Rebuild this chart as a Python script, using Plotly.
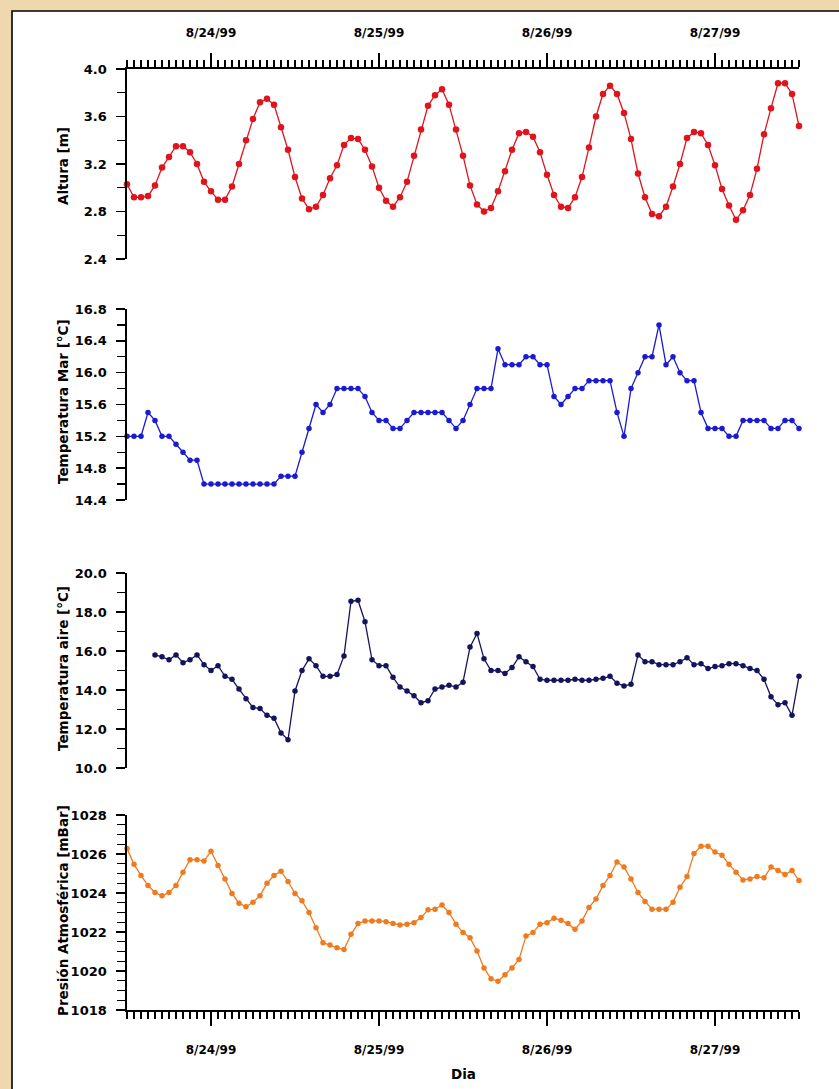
import pandas as pd
import plotly.graph_objects as go

# ---------------- data (hourly, 8/23/99 12:00 .. 8/27/99 12:00) ----------------
start_time = "1999-08-23 12:00"
n_hours = 97
air_start_hour = 4

day_ticks = ["1999-08-24", "1999-08-25", "1999-08-26", "1999-08-27"]
day_labels = ["8/24/99", "8/25/99", "8/26/99", "8/27/99"]

altura = [3.03, 2.92, 2.92, 2.93, 3.02, 3.17, 3.26, 3.35, 3.35, 3.30,
          3.20, 3.05, 2.97, 2.90, 2.90, 3.01, 3.20, 3.40, 3.58, 3.72,
          3.75, 3.70, 3.51, 3.32, 3.09, 2.91, 2.82, 2.84, 2.94, 3.08,
          3.19, 3.36, 3.42, 3.41, 3.32, 3.18, 3.00, 2.89, 2.84, 2.92,
          3.05, 3.27, 3.49, 3.69, 3.78, 3.83, 3.70, 3.49, 3.27, 3.02,
          2.86, 2.80, 2.83, 2.97, 3.14, 3.32, 3.46, 3.47, 3.43, 3.30,
          3.11, 2.94, 2.84, 2.83, 2.92, 3.09, 3.34, 3.60, 3.79, 3.86,
          3.79, 3.63, 3.41, 3.12, 2.92, 2.78, 2.76, 2.84, 3.01, 3.20,
          3.42, 3.47, 3.46, 3.36, 3.19, 2.99, 2.85, 2.73, 2.81, 2.94,
          3.16, 3.45, 3.67, 3.88, 3.88, 3.79, 3.52]

temp_mar = [15.2, 15.2, 15.2, 15.5, 15.4, 15.2, 15.2, 15.1, 15.0, 14.9,
            14.9, 14.6, 14.6, 14.6, 14.6, 14.6, 14.6, 14.6, 14.6, 14.6,
            14.6, 14.6, 14.7, 14.7, 14.7, 15.0, 15.3, 15.6, 15.5, 15.6,
            15.8, 15.8, 15.8, 15.8, 15.7, 15.5, 15.4, 15.4, 15.3, 15.3,
            15.4, 15.5, 15.5, 15.5, 15.5, 15.5, 15.4, 15.3, 15.4, 15.6,
            15.8, 15.8, 15.8, 16.3, 16.1, 16.1, 16.1, 16.2, 16.2, 16.1,
            16.1, 15.7, 15.6, 15.7, 15.8, 15.8, 15.9, 15.9, 15.9, 15.9,
            15.5, 15.2, 15.8, 16.0, 16.2, 16.2, 16.6, 16.1, 16.2, 16.0,
            15.9, 15.9, 15.5, 15.3, 15.3, 15.3, 15.2, 15.2, 15.4, 15.4,
            15.4, 15.4, 15.3, 15.3, 15.4, 15.4, 15.3]

temp_aire = [15.8, 15.7, 15.55, 15.8, 15.4, 15.55,
             15.8, 15.3, 15.0, 15.25, 14.7, 14.55, 14.05, 13.55, 13.1, 13.05,
             12.7, 12.55, 11.8, 11.45, 13.95, 15.0, 15.6, 15.25, 14.7, 14.7,
             14.8, 15.75, 18.55, 18.6, 17.5, 15.55, 15.25, 15.25, 14.65, 14.15,
             13.95, 13.7, 13.35, 13.45, 14.05, 14.15, 14.25, 14.15, 14.4, 16.2,
             16.9, 15.6, 15.0, 15.0, 14.85, 15.15, 15.7, 15.45, 15.2, 14.55,
             14.5, 14.5, 14.5, 14.5, 14.55, 14.5, 14.5, 14.55, 14.6, 14.7,
             14.35, 14.2, 14.3, 15.8, 15.45, 15.45, 15.3, 15.3, 15.3, 15.45,
             15.65, 15.3, 15.35, 15.1, 15.2, 15.25, 15.35, 15.35, 15.25, 15.1,
             15.0, 14.55, 13.65, 13.25, 13.35, 12.7, 14.7]

presion = [1026.28, 1025.47, 1024.9, 1024.38, 1024.03, 1023.86, 1024.03, 1024.38, 1025.07, 1025.71,
           1025.71, 1025.64, 1026.14, 1025.41, 1024.72, 1023.98, 1023.48, 1023.29, 1023.52, 1023.86,
           1024.5, 1024.9, 1025.12, 1024.59, 1023.98, 1023.6, 1023.0, 1022.22, 1021.45, 1021.33,
           1021.19, 1021.1, 1021.88, 1022.43, 1022.57, 1022.57, 1022.57, 1022.53, 1022.43, 1022.36,
           1022.4, 1022.48, 1022.74, 1023.14, 1023.17, 1023.38, 1023.0, 1022.4, 1021.97, 1021.71,
           1021.02, 1020.16, 1019.6, 1019.47, 1019.81, 1020.16, 1020.59, 1021.79, 1021.97, 1022.4,
           1022.48, 1022.71, 1022.6, 1022.43, 1022.14, 1022.57, 1023.26, 1023.69, 1024.38, 1024.9,
           1025.59, 1025.33, 1024.72, 1024.03, 1023.57, 1023.17, 1023.17, 1023.17, 1023.52, 1024.29,
           1024.84, 1026.02, 1026.4, 1026.4, 1026.1, 1025.93, 1025.47, 1025.07, 1024.67, 1024.72,
           1024.84, 1024.78, 1025.33, 1025.16, 1024.95, 1025.16, 1024.64]

times = pd.date_range(start_time, periods=n_hours, freq="h")
air_times = times[air_start_hour:]
x_range = [times[0], times[-1]]

# ---------------- figure ----------------
W, H = 839, 1089
PARCHMENT = "#efd8ae"


def fx(p):
    return p / W


def fy(p):
    return 1 - p / H


FONT = "DejaVu Sans"
tickfont = dict(family=FONT, size=13, color="black", weight="bold")
x_dom = [fx(127), fx(799)]

fig = go.Figure()

series = [
    (times, altura, "#e0141c", 6.5, "x", "y"),
    (times, temp_mar, "#1a1ad2", 5.5, "x2", "y2"),
    (air_times, temp_aire, "#14145e", 5.5, "x3", "y3"),
    (times, presion, "#f07a1e", 5.5, "x4", "y4"),
]
for xs, ys, col, msize, xa, ya in series:
    fig.add_trace(go.Scatter(
        x=xs, y=ys, mode="lines+markers", xaxis=xa, yaxis=ya,
        line=dict(color=col, width=1.3),
        marker=dict(color=col, size=msize, symbol="circle"),
        cliponaxis=False, showlegend=False, hoverinfo="skip"))

axis_common = dict(showgrid=False, zeroline=False, showline=True, linecolor="black",
                   linewidth=1.6, tickcolor="black", tickwidth=1.5, ticks="outside",
                   tickfont=tickfont, automargin=False)


def xaxis_main(side, anchor, standoff):
    return dict(axis_common, domain=x_dom, anchor=anchor, side=side, type="date",
                range=x_range, tickmode="array", tickvals=day_ticks, ticktext=day_labels,
                ticklen=14, ticklabelstandoff=standoff,
                tickfont=dict(family=FONT, size=12, color="black", weight="bold"),
                minor=dict(ticks="outside", ticklen=7, tickmode="linear",
                           tick0="1999-08-23 00:00", dtick=3600000,
                           tickcolor="black", tickwidth=1.2, showgrid=False))


def yaxis(dom_px, anchor, rng, dtick, minor_dtick, fmt):
    return dict(axis_common, domain=[fy(dom_px[1]), fy(dom_px[0])], anchor=anchor,
                range=rng, tick0=rng[0], dtick=dtick, tickformat=fmt,
                ticklen=9, ticklabelstandoff=7,
                minor=dict(ticks="outside", ticklen=8, tick0=rng[0], dtick=minor_dtick,
                           tickcolor="black", tickwidth=1.4, showgrid=False))


hidden_x = dict(visible=False, type="date", range=x_range, domain=x_dom, automargin=False)

fig.update_layout(
    width=W, height=H, autosize=False,
    margin=dict(l=0, r=0, t=0, b=0, pad=0, autoexpand=False),
    paper_bgcolor=PARCHMENT,
    plot_bgcolor="rgba(0,0,0,0)",
    xaxis=xaxis_main("top", "y", 12),
    xaxis2=dict(hidden_x, anchor="y2"),
    xaxis3=dict(hidden_x, anchor="y3"),
    xaxis4=xaxis_main("bottom", "y4", 14),
    yaxis=yaxis((69, 259), "x", [2.4, 4.0], 0.4, 0.2, ".1f"),
    yaxis2=yaxis((309, 500), "x2", [14.4, 16.8], 0.4, 0.2, ".1f"),
    yaxis3=yaxis((573, 768), "x3", [10, 20], 2, 1, ".1f"),
    yaxis4=yaxis((815, 1010), "x4", [1018, 1028], 2, 0.5, "d"),
    shapes=[dict(type="rect", xref="paper", yref="paper", layer="below",
                 x0=fx(12), x1=1.05, y0=-0.05, y1=fy(11),
                 fillcolor="white", line=dict(color="black", width=1.6))],
)

titles = [
    ("Altura [m]", 166),
    ("Temperatura Mar [°C]", 402),
    ("Temperatura aire [°C]", 669),
    ("Presión Atmosférica [mBar]", 911),
]
for txt, yc in titles:
    fig.add_annotation(text=txt, xref="paper", yref="paper", x=fx(63), y=fy(yc),
                       xanchor="center", yanchor="middle", textangle=-90, showarrow=False,
                       font=dict(family=FONT, size=13.5, color="black", weight="bold"))

fig.add_annotation(text="Dia", xref="paper", yref="paper", x=fx(463), y=fy(1074),
                   xanchor="center", yanchor="middle", showarrow=False,
                   font=dict(family=FONT, size=13.5, color="black", weight="bold"))

page_js = ("document.documentElement.style.margin='0';"
           "document.body.style.margin='0';"
           "document.body.style.padding='0';"
           "document.body.style.overflow='hidden';"
           "document.body.style.background='" + PARCHMENT + "';"
           "var gd=document.getElementById('{plot_id}');"
           "gd.style.position='fixed';gd.style.left='0px';gd.style.top='0px';")

fig.write_html("out.html", post_script=page_js,
               config={"displayModeBar": False, "staticPlot": True})
